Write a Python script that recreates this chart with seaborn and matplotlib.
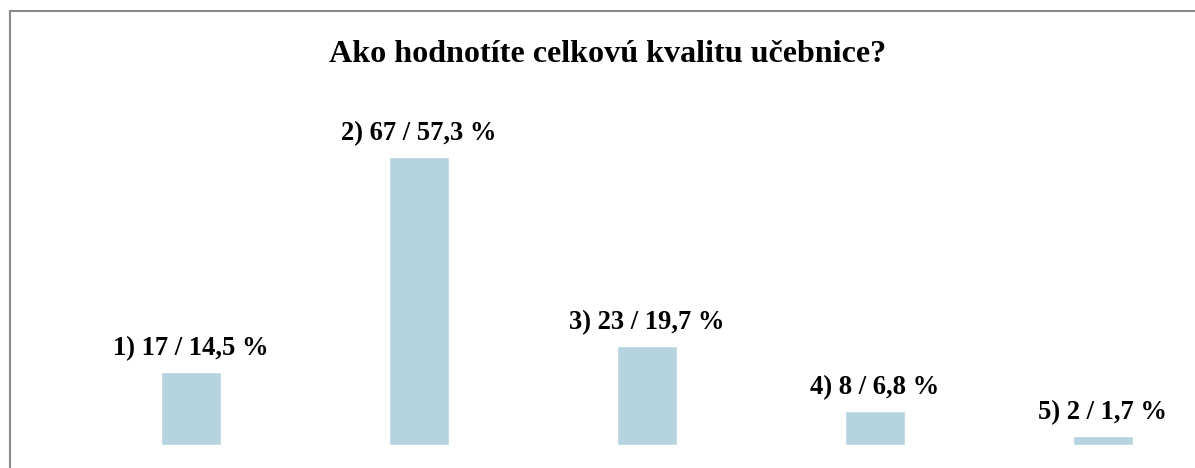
import matplotlib
matplotlib.use("Agg")
import matplotlib.pyplot as plt
import seaborn as sns
import pandas as pd

# Survey answers
options = ["1", "2", "3", "4", "5"]
counts = [17, 67, 23, 8, 2]
percents = [14.5, 57.3, 19.7, 6.8, 1.7]
title = "Ako hodnotíte celkovú kvalitu učebnice?"

df = pd.DataFrame({"option": options, "percent": percents})
labels = [f"{o}) {c} / {str(p).replace('.', ',')} %" for o, c, p in zip(options, counts, percents)]

sns.set_style("white")
plt.rcParams["font.family"] = ["Liberation Serif", "DejaVu Serif"]

fig = plt.figure(figsize=(11.95, 4.68), dpi=100)
ax = fig.add_axes([9.5 / 1195, 0, 1185.5 / 1195, 1 - 10.5 / 468])

sns.barplot(data=df, x="option", y="percent", color="#B6D4DF", saturation=1,
            width=0.263, ax=ax)

ax.bar_label(ax.containers[0], labels=labels, padding=8,
             fontsize=19.2, fontweight="bold", color="black")

ax.set_xlim(-0.796, 4.404)
ax.set_ylim(-4.57, 86.4)
ax.set_xticks([])
ax.set_yticks([])
ax.set_xlabel("")
ax.set_ylabel("")

for side in ["right", "bottom"]:
    ax.spines[side].set_visible(False)
for side in ["left", "top"]:
    ax.spines[side].set_color("#888888")
    ax.spines[side].set_linewidth(1.5)

fig.text(608 / 1195, 1 - 62 / 468, title, ha="center", va="baseline",
         fontsize=23.1, fontweight="bold", color="black")

fig.savefig("out.png", dpi=100)
